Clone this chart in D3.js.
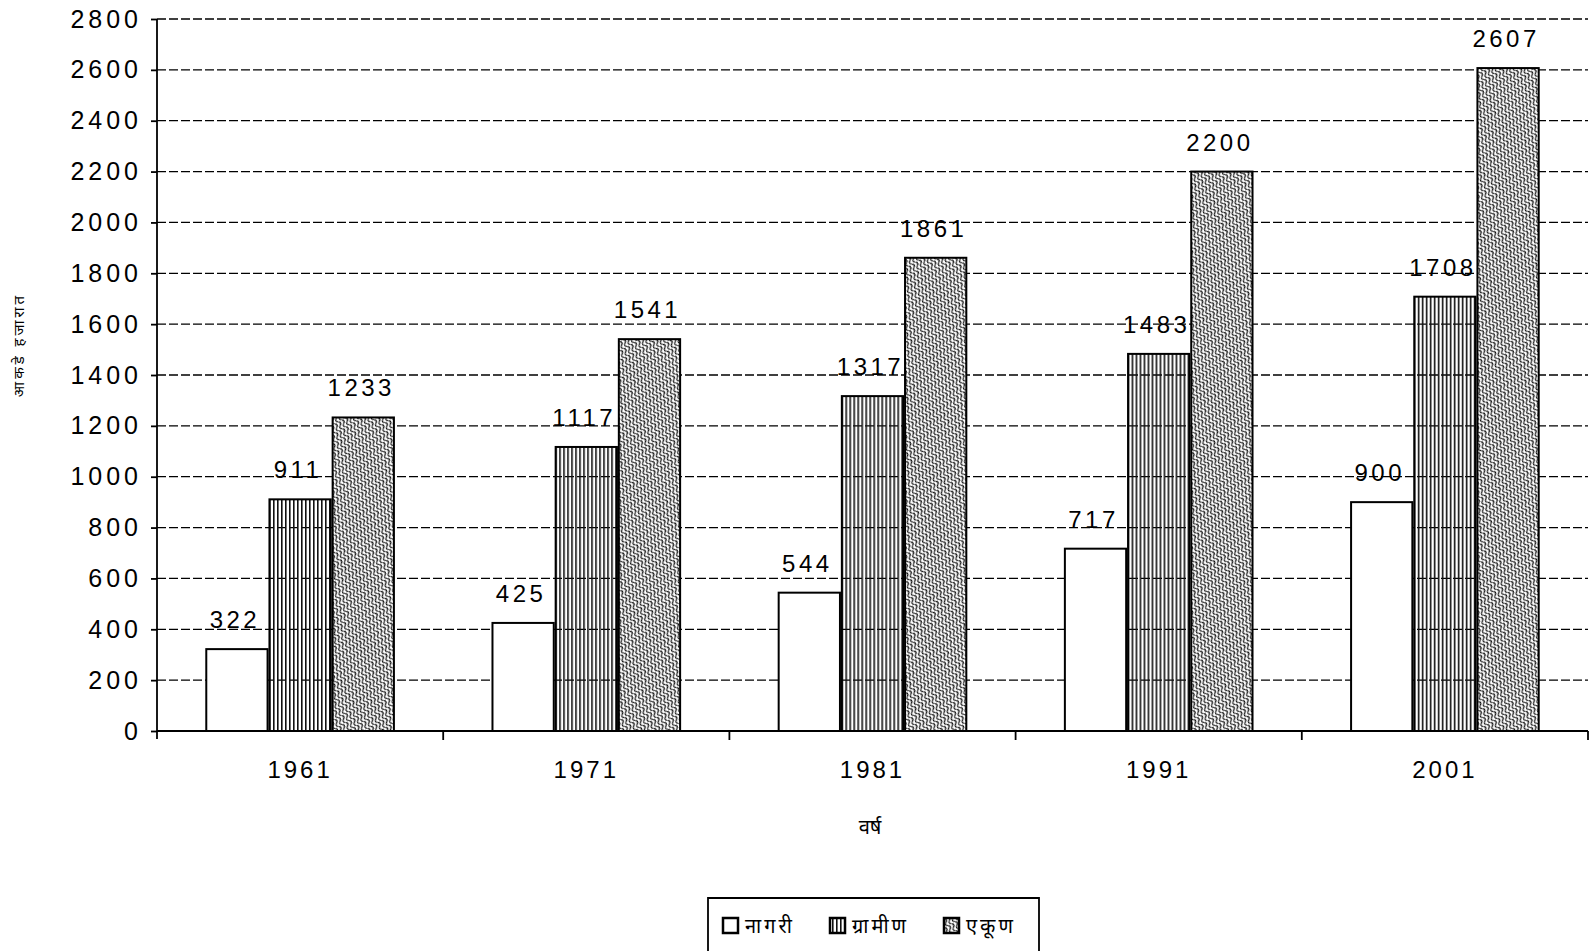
<!DOCTYPE html>
<html lang="mr">
<head>
  <meta charset="UTF-8">
  <title>नागरी / ग्रामीण / एकूण</title>
  <script src="https://d3js.org/d3.v7.min.js"></script>
  <style>
    body { margin: 0; background: #fff; }
    text { font-family: "Liberation Sans", Arial, sans-serif; }
    .deva { font-family: "Noto Sans Devanagari", "Noto Sans", "Lohit Devanagari", sans-serif; }
  </style>
</head>
<body>
  <div id="chart"></div>
  <script>
    // Data
    const years = ["1961", "1971", "1981", "1991", "2001"];
    const nagari = [322, 425, 544, 717, 900];
    const gramin = [911, 1117, 1317, 1483, 1708];
    const ekun = [1233, 1541, 1861, 2200, 2607];
    const seriesNames = ["नागरी", "ग्रामीण", "एकूण"];
    const yTicks = d3.range(0, 2801, 200);

    const width = 1591, height = 951;
    const margin = { left: 157, right: 3, top: 19, bottom: 220 };

    const svg = d3.select("#chart").append("svg")
      .attr("width", width).attr("height", height);

    // fill patterns
    const defs = svg.append("defs");
    defs.append("pattern")
      .attr("id", "p-gramin")
      .attr("patternUnits", "userSpaceOnUse")
      .attr("width", 4).attr("height", 4)
      .append("rect")
      .attr("x", 0).attr("y", 0).attr("width", 1.6).attr("height", 4)
      .attr("fill", "#111");
    const pe = defs.append("pattern")
      .attr("id", "p-ekun")
      .attr("patternUnits", "userSpaceOnUse")
      .attr("width", 8).attr("height", 8)
      .attr("patternTransform", "rotate(60)");
    pe.append("rect").attr("width", 8).attr("height", 8).attr("fill", "#fff");
    pe.append("path")
      .attr("d", "M0,2 q2,-3 4,0 t4,0 M0,6 q2,-3 4,0 t4,0")
      .attr("fill", "none").attr("stroke", "#111").attr("stroke-width", 1.3);

    const fills = ["#fff", "url(#p-gramin)", "url(#p-ekun)"];

    const x = d3.scaleBand()
      .domain(years)
      .range([margin.left, width - margin.right])
      .paddingInner(0).paddingOuter(0);

    const xs = d3.scaleBand()
      .domain([0, 1, 2])
      .range([0, x.bandwidth()])
      .paddingInner(0.03)
      .paddingOuter(0.78);

    const y = d3.scaleLinear()
      .domain([0, 2800])
      .range([height - margin.bottom, margin.top]);

    // gridlines
    svg.append("g")
      .selectAll("line")
      .data(yTicks.slice(1))
      .enter().append("line")
      .attr("x1", margin.left).attr("x2", width - margin.right)
      .attr("y1", d => y(d)).attr("y2", d => y(d))
      .attr("stroke", "#000")
      .attr("stroke-width", 1.3)
      .attr("stroke-dasharray", "9,3");

    // bars
    const groups = svg.append("g")
      .selectAll("g")
      .data(years)
      .enter().append("g")
      .attr("transform", d => "translate(" + x(d) + ",0)");

    const series = [nagari, gramin, ekun];
    groups.selectAll("rect")
      .data((d, i) => series.map((s, j) => ({ j: j, v: s[i] })))
      .enter().append("rect")
      .attr("x", d => xs(d.j))
      .attr("y", d => y(d.v))
      .attr("width", xs.bandwidth())
      .attr("height", d => y(0) - y(d.v))
      .attr("fill", d => fills[d.j])
      .attr("stroke", "#000")
      .attr("stroke-width", 2);

    groups.selectAll("text.val")
      .data((d, i) => series.map((s, j) => ({ j: j, v: s[i] })))
      .enter().append("text")
      .attr("class", "val")
      .attr("x", d => xs(d.j) + xs.bandwidth() / 2 - 2)
      .attr("y", d => y(d.v) - 21)
      .attr("text-anchor", "middle")
      .attr("font-size", 24)
      .attr("letter-spacing", 3.5)
      .text(d => d.v);

    // axes
    const yAxis = d3.axisLeft(y).tickValues(yTicks).tickFormat(d3.format("d"))
      .tickSize(6).tickPadding(9);
    const gy = svg.append("g")
      .attr("transform", "translate(" + margin.left + ",0)")
      .call(yAxis);
    gy.selectAll("text").attr("font-size", 25).attr("fill", "#000")
      .attr("letter-spacing", 4)
      .style("font-family", "'Liberation Sans', Arial, sans-serif");
    gy.selectAll("line, path").attr("stroke", "#000").attr("stroke-width", 1.8);
    gy.select(".domain").attr("d", "M0," + y(2800) + "V" + (y(0) + 8));

    const xAxis = d3.axisBottom(x).tickSize(0).tickPadding(30);
    const gx = svg.append("g")
      .attr("transform", "translate(0," + y(0) + ")")
      .call(xAxis);
    gx.select(".domain").attr("d", "M" + margin.left + ",0H" + (width - margin.right))
      .attr("stroke", "#000").attr("stroke-width", 1.8);
    gx.selectAll("text").attr("font-size", 24).attr("fill", "#000")
      .attr("letter-spacing", 3)
      .style("font-family", "'Liberation Sans', Arial, sans-serif");

    // band boundary ticks below the axis
    svg.append("g")
      .selectAll("line")
      .data(years.slice(1).concat(["end"]))
      .enter().append("line")
      .attr("x1", d => d === "end" ? width - margin.right : x(d))
      .attr("x2", d => d === "end" ? width - margin.right : x(d))
      .attr("y1", y(0)).attr("y2", y(0) + 9)
      .attr("stroke", "#000").attr("stroke-width", 1.8);

    // axis titles
    svg.append("text")
      .attr("class", "deva")
      .attr("transform", "translate(24," + (y(1400) - 30) + ") rotate(-90)")
      .attr("text-anchor", "middle")
      .attr("font-size", 15)
      .attr("letter-spacing", 3)
      .text("आकडे हजारात");

    svg.append("text")
      .attr("class", "deva")
      .attr("x", 870).attr("y", 834)
      .attr("text-anchor", "middle")
      .attr("font-size", 20)
      .text("वर्ष");

    // legend
    const lg = svg.append("g").attr("transform", "translate(708,898)");
    lg.append("path")
      .attr("d", "M0,60V0H331V60")
      .attr("fill", "none").attr("stroke", "#000").attr("stroke-width", 1.8);
    const itemX = [15, 122, 236];
    seriesNames.forEach((name, i) => {
      lg.append("rect")
        .attr("x", itemX[i]).attr("y", 20)
        .attr("width", 15).attr("height", 15)
        .attr("fill", fills[i])
        .attr("stroke", "#000").attr("stroke-width", 2.5);
      lg.append("text")
        .attr("class", "deva")
        .attr("x", itemX[i] + 22).attr("y", 35)
        .attr("font-size", 20)
        .attr("letter-spacing", 3)
        .text(name);
    });
  </script>
</body>
</html>
